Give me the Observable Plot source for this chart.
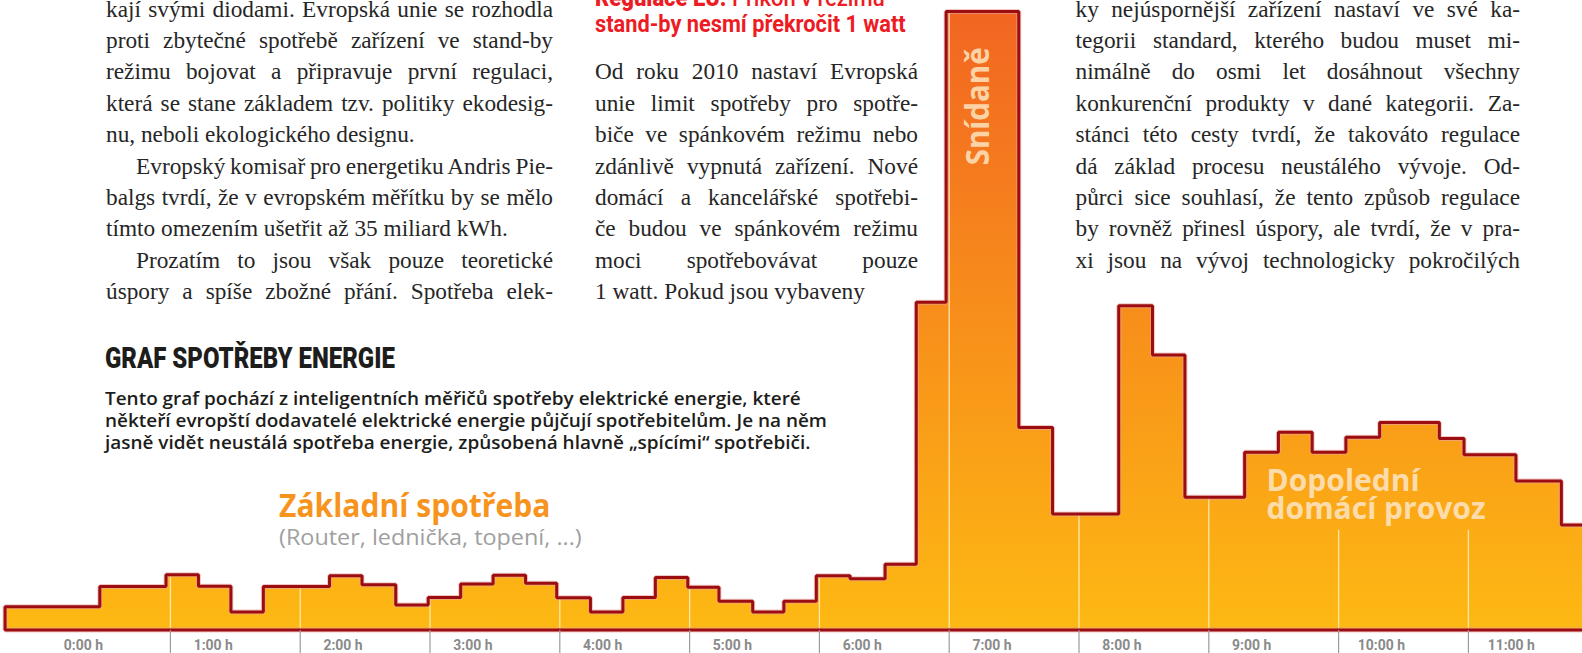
<!DOCTYPE html>
<html><head><meta charset="utf-8">
<script src="https://cdn.jsdelivr.net/npm/d3@7"></script>
<script src="https://cdn.jsdelivr.net/npm/@observablehq/plot@0.6"></script>
<style>
html,body{margin:0;padding:0;background:#fff;}
#page{position:relative;width:1582px;height:653px;overflow:hidden;background:#fff;}
#chart{position:absolute;left:0;top:0;width:1582px;height:653px;}
#overlay{position:absolute;left:0;top:0;pointer-events:none;}
</style></head><body>
<div id="page"><div id="chart"></div><svg id="overlay" width="1582" height="653"></svg></div>
<script>
// ---------- chart data (hours since midnight, consumption units) ----------
const stepStart = [-0.27, 0.46, 0.97, 1.22, 1.47, 1.72, 2.23, 2.48, 2.74, 2.99,
                   3.24, 3.49, 3.74, 3.98, 4.24, 4.49, 4.74, 4.99, 5.23, 5.49,
                   5.73, 5.98, 6.24, 6.51, 6.75, 6.98, 7.54, 7.80, 8.31, 8.57,
                   8.82, 9.28, 9.54, 9.80, 10.06, 10.32, 10.78, 10.97, 11.37, 11.72];
const stepValue = [75, 140, 178, 141, 58, 140, 175, 146, 81, 105,
                   148, 177, 151, 104, 58, 105, 169, 138, 93, 58,
                   93, 175, 165, 212, 1057, 1995, 653, 374, 1046, 887,
                   428, 573, 638, 573, 622, 669, 618, 565, 481, 339];
const endHour = 11.9;
const hourTicks = [1, 2, 3, 4, 5, 6, 7, 8, 9, 10, 11];
const labelHours = [0, 1, 2, 3, 4, 5, 6, 7, 8, 9, 10, 11];
const tickLabels = ["0:00 h", "1:00 h", "2:00 h", "3:00 h", "4:00 h", "5:00 h",
                    "6:00 h", "7:00 h", "8:00 h", "9:00 h", "10:00 h", "11:00 h"];
const peakLabel = ["Snídaně"];
const morningLabel = ["Dopolední\ndomácí provoz"];

// ---------- page text ----------
const leftLines = [
  "kají svými diodami. Evropská unie se rozhodla",
  "proti zbytečné spotřebě zařízení ve stand-by",
  "režimu bojovat a připravuje první regulaci,",
  "která se stane základem tzv. politiky ekodesig-",
  "nu, neboli ekologického designu.",
  "Evropský komisař pro energetiku Andris Pie-",
  "balgs tvrdí, že v evropském měřítku by se mělo",
  "tímto omezením ušetřit až 35 miliard kWh.",
  "Prozatím to jsou však pouze teoretické",
  "úspory a spíše zbožné přání. Spotřeba elek-"
];
const leftKind = ["J","J","J","J","E","IJ","J","E","IJ","J"];
const midLines = [
  "Od roku 2010 nastaví Evropská",
  "unie limit spotřeby pro spotře-",
  "biče ve spánkovém režimu nebo",
  "zdánlivě vypnutá zařízení. Nové",
  "domácí a kancelářské spotřebi-",
  "če budou ve spánkovém režimu",
  "moci spotřebovávat pouze",
  "1 watt. Pokud jsou vybaveny"
];
const midKind = ["J","J","J","J","J","J","J","E"];
const rightLines = [
  "ky nejúspornější zařízení nastaví ve své ka-",
  "tegorii standard, kterého budou muset mi-",
  "nimálně do osmi let dosáhnout všechny",
  "konkurenční produkty v dané kategorii. Za-",
  "stánci této cesty tvrdí, že takováto regulace",
  "dá základ procesu neustálého vývoje. Od-",
  "půrci sice souhlasí, že tento způsob regulace",
  "by rovněž přinesl úspory, ale tvrdí, že v pra-",
  "xi jsou na vývoj technologicky pokročilých"
];
const headBold = "Regulace EU:";
const headRest = " Příkon v režimu";
const headLine2 = "stand-by nesmí překročit 1 watt";
const chartTitle = "GRAF SPOTŘEBY ENERGIE";
const chartDesc = [
  "Tento graf pochází z inteligentních měřičů spotřeby elektrické energie, které",
  "někteří evropští dodavatelé elektrické energie půjčují spotřebitelům. Je na něm",
  "jasně vidět neustálá spotřeba energie, způsobená hlavně „spícími“ spotřebiči."
];
const baseLabel = "Základní spotřeba";
const baseSub = "(Router, lednička, topení, ...)";

// ---------- build chart ----------
const steps = stepStart.map((t, i) => ({t, v: stepValue[i]}));
steps.push({t: endHour, v: stepValue[stepValue.length - 1]});
const valueAt = h => { let v = 0; for (const s of steps) if (s.t <= h) v = s.v; return v; };
const labelSpan = [9.44, 11.16], labelFloor = 323;
const gridTop = h => (h >= labelSpan[0] && h <= labelSpan[1]) ? Math.min(valueAt(h), labelFloor) : valueAt(h);

const svgEl = Plot.plot({
  width: 1582, height: 653,
  marginTop: 10, marginBottom: 23, marginLeft: 0, marginRight: 0,
  x: {domain: [-0.309, 11.879], label: null},
  y: {domain: [0, 2000], axis: null},
  style: {background: "transparent"},
  marks: [
    Plot.areaY(steps, {x: "t", y: "v", curve: "step-after", fill: "url(#energyGrad)"}),
    Plot.ruleX(hourTicks, {x: d => d, y1: 0, y2: d => gridTop(d), stroke: "#fff1c6", strokeOpacity: 0.85, strokeWidth: 1.3}),
    Plot.areaY(steps, {x: "t", y: "v", curve: "step-after", fill: "none", stroke: "#e7a3a0", strokeWidth: 5, strokeOpacity: 0.6, strokeLinejoin: "miter"}),
    Plot.areaY(steps, {x: "t", y: "v", curve: "step-after", fill: "none", stroke: "#9b0d10", strokeWidth: 3, strokeLinejoin: "miter"}),
    Plot.axisX({ticks: hourTicks, tickSize: 24, tickFormat: () => "", stroke: "#9b9b9b", strokeWidth: 1.2}),
    Plot.text(labelHours, {x: d => d + 0.33, y: 0, text: (d, i) => tickLabels[i], dy: 15,
      fill: "#8a8a8a", fontSize: 15.5, fontWeight: 700, fontFamily: "Roboto"}),
    Plot.text(peakLabel, {x: 7.23, y: 1691, text: d => d, rotate: -90, fontSize: 32, fontWeight: 700,
      fontFamily: "Open Sans", fill: "#fdd3a6"}),
    Plot.text(morningLabel, {x: 9.445, y: 516, text: d => d, textAnchor: "start", lineAnchor: "top",
      lineHeight: 0.95, fontSize: 30, fontWeight: 700, fontFamily: "Open Sans", fill: "#fddcab"})
  ]
});
d3.select(svgEl).insert("defs", ":first-child").html(
  '<linearGradient id="energyGrad" gradientUnits="userSpaceOnUse" x1="0" y1="10" x2="0" y2="630">' +
  '<stop offset="0" stop-color="#f26522"/><stop offset="1" stop-color="#fdb913"/></linearGradient>');
document.getElementById("chart").appendChild(svgEl);

function tuneChartText() {
  d3.select(svgEl).selectAll("text").each(function () {
    const s = this.textContent;
    if (tickLabels.includes(s)) {
      this.removeAttribute("textLength");
      const L = this.getComputedTextLength();
      this.setAttribute("textLength", L * 0.9);
      this.setAttribute("lengthAdjust", "spacingAndGlyphs");
    } else if (s === peakLabel[0]) {
      this.setAttribute("textLength", 118);
      this.setAttribute("lengthAdjust", "spacingAndGlyphs");
    }
  });
}

// ---------- overlay page text ----------
const ov = d3.select("#overlay");
const rowY = k => 16.5 + 31.4 * k;
function bodyLine(x, y, w, str, justify) {
  const t = ov.append("text").attr("x", x).attr("y", y)
    .attr("font-family", "Liberation Serif, serif").attr("font-size", 23.3).attr("fill", "#262626").text(str);
  if (justify) {
    const n = (str.match(/ /g) || []).length;
    const L = t.node().getComputedTextLength();
    if (n) t.attr("word-spacing", (w - L) / n);
  }
}
function fitLine(x, y, w, parts, family, size, fill) {
  const t = ov.append("text").attr("font-family", family).attr("font-size", size).attr("fill", fill);
  parts.forEach(p => t.append("tspan").attr("font-weight", p[1]).text(p[0]));
  const L = t.node().getComputedTextLength();
  t.attr("transform", `translate(${x},${y}) scale(${w / L},1)`);
  return w / L;
}
function drawOverlay() {
  ov.selectAll("*").remove();
  leftLines.forEach((s, k) => {
    const kind = leftKind[k], ind = kind === "IJ" ? 30 : 0;
    bodyLine(106 + ind, rowY(k), 447 - ind, s, kind !== "E");
  });
  midLines.forEach((s, k) => bodyLine(595, rowY(k + 2), 323, s, midKind[k] !== "E"));
  rightLines.forEach((s, k) => bodyLine(1075.5, rowY(k), 444.5, s, true));

  fitLine(595, 5.5, 290, [[headBold, 900], [headRest, 500]], "Roboto", 24, "#ed1c24");
  fitLine(595, 31.7, 311, [[headLine2, 700]], "Roboto", 24, "#ed1c24");
  fitLine(105, 368, 290, [[chartTitle, 900]], "Roboto", 30, "#1d1d1b");

  // description: one common horizontal scale, set by the longest line
  const probe = ov.append("text").attr("font-family", "Open Sans").attr("font-size", 18.5)
    .attr("font-weight", 600).text(chartDesc[1]);
  const sc = 722 / probe.node().getComputedTextLength();
  probe.remove();
  chartDesc.forEach((s, i) => {
    ov.append("text").attr("font-family", "Open Sans").attr("font-size", 18.5).attr("font-weight", 600)
      .attr("fill", "#1d1d1b").attr("transform", `translate(105,${405 + 22.2 * i}) scale(${sc},1)`).text(s);
  });
  fitLine(279, 516.7, 271.6, [[baseLabel, 700]], "Open Sans", 33, "#f7941d");
  fitLine(279, 545, 303, [[baseSub, 500]], "Open Sans", 21, "#a0a0a0");
  tuneChartText();
}
drawOverlay();
if (document.fonts && document.fonts.ready) document.fonts.ready.then(drawOverlay);
</script>
</body></html>
